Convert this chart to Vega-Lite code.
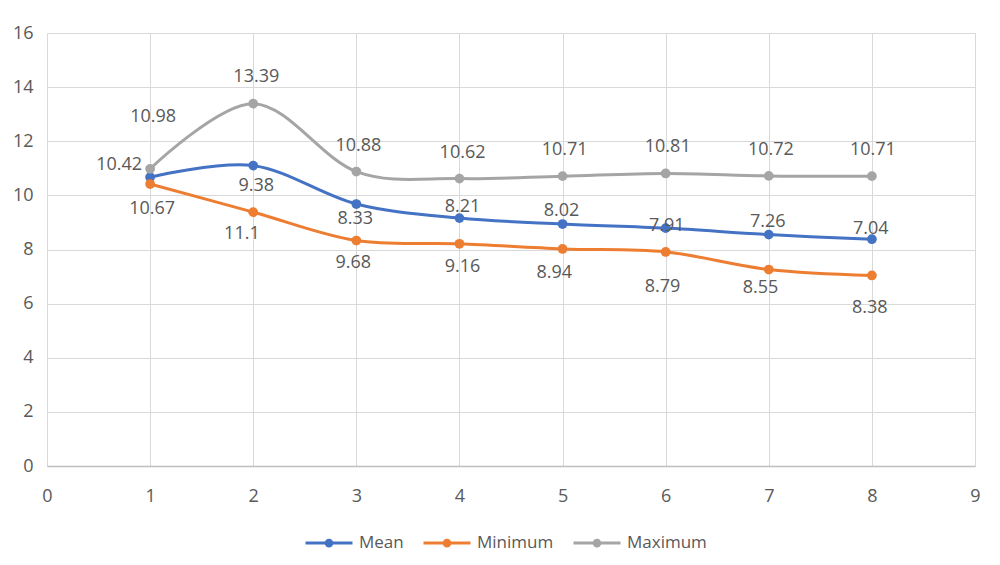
{
  "$schema": "https://vega.github.io/schema/vega-lite/v6.json",
  "autosize": "none",
  "width": 928,
  "height": 433,
  "padding": {"left": 47, "top": 33, "right": 25, "bottom": 99},
  "background": "#ffffff",
  "config": {
    "view": {"stroke": null},
    "font": "Open Sans",
    "axis": {
      "labelFont": "Open Sans",
      "labelFontSize": 18,
      "labelColor": "#595959",
      "gridColor": "#d9d9d9",
      "gridWidth": 1,
      "ticks": false,
      "title": null
    }
  },
  "datasets": {
    "series": [
      {"x": 1, "series": "Mean", "value": 10.67},
      {"x": 2, "series": "Mean", "value": 11.1},
      {"x": 3, "series": "Mean", "value": 9.68},
      {"x": 4, "series": "Mean", "value": 9.16},
      {"x": 5, "series": "Mean", "value": 8.94},
      {"x": 6, "series": "Mean", "value": 8.79},
      {"x": 7, "series": "Mean", "value": 8.55},
      {"x": 8, "series": "Mean", "value": 8.38},
      {"x": 1, "series": "Minimum", "value": 10.42},
      {"x": 2, "series": "Minimum", "value": 9.38},
      {"x": 3, "series": "Minimum", "value": 8.33},
      {"x": 4, "series": "Minimum", "value": 8.21},
      {"x": 5, "series": "Minimum", "value": 8.02},
      {"x": 6, "series": "Minimum", "value": 7.91},
      {"x": 7, "series": "Minimum", "value": 7.26},
      {"x": 8, "series": "Minimum", "value": 7.04},
      {"x": 1, "series": "Maximum", "value": 10.98},
      {"x": 2, "series": "Maximum", "value": 13.39},
      {"x": 3, "series": "Maximum", "value": 10.88},
      {"x": 4, "series": "Maximum", "value": 10.62},
      {"x": 5, "series": "Maximum", "value": 10.71},
      {"x": 6, "series": "Maximum", "value": 10.81},
      {"x": 7, "series": "Maximum", "value": 10.72},
      {"x": 8, "series": "Maximum", "value": 10.71}
    ],
    "labels": [
      {"lx": 1.03, "ly": 12.91, "text": "10.98"},
      {"lx": 2.03, "ly": 14.39, "text": "13.39"},
      {"lx": 3.02, "ly": 11.84, "text": "10.88"},
      {"lx": 4.03, "ly": 11.57, "text": "10.62"},
      {"lx": 5.02, "ly": 11.69, "text": "10.71"},
      {"lx": 6.02, "ly": 11.8, "text": "10.81"},
      {"lx": 7.02, "ly": 11.69, "text": "10.72"},
      {"lx": 8.01, "ly": 11.69, "text": "10.71"},
      {"lx": 0.7, "ly": 11.13, "text": "10.42"},
      {"lx": 2.03, "ly": 10.35, "text": "9.38"},
      {"lx": 2.99, "ly": 9.14, "text": "8.33"},
      {"lx": 4.03, "ly": 9.58, "text": "8.21"},
      {"lx": 4.99, "ly": 9.43, "text": "8.02"},
      {"lx": 6.01, "ly": 8.88, "text": "7.91"},
      {"lx": 6.99, "ly": 9.03, "text": "7.26"},
      {"lx": 7.99, "ly": 8.74, "text": "7.04"},
      {"lx": 1.02, "ly": 9.48, "text": "10.67"},
      {"lx": 1.89, "ly": 8.59, "text": "11.1"},
      {"lx": 2.97, "ly": 7.51, "text": "9.68"},
      {"lx": 4.03, "ly": 7.37, "text": "9.16"},
      {"lx": 4.92, "ly": 7.14, "text": "8.94"},
      {"lx": 5.97, "ly": 6.62, "text": "8.79"},
      {"lx": 6.92, "ly": 6.59, "text": "8.55"},
      {"lx": 7.98, "ly": 5.82, "text": "8.38"}
    ]
  },
  "layer": [
    {
      "data": {"name": "series"},
      "mark": {"type": "line", "interpolate": "cardinal", "strokeWidth": 3},
      "encoding": {
        "x": {
          "field": "x", "type": "quantitative",
          "scale": {"domain": [0, 9], "nice": false, "zero": false},
          "axis": {
            "values": [0, 1, 2, 3, 4, 5, 6, 7, 8, 9],
            "format": "d",
            "grid": true,
            "domain": true,
            "domainColor": "#bfbfbf",
            "domainWidth": 1.5,
            "labelPadding": 21,
            "labelFlush": false
          }
        },
        "y": {
          "field": "value", "type": "quantitative",
          "scale": {"domain": [0, 16], "nice": false},
          "axis": {
            "values": [0, 2, 4, 6, 8, 10, 12, 14, 16],
            "format": "d",
            "grid": true,
            "domain": false,
            "labelPadding": 14
          }
        },
        "color": {
          "field": "series", "type": "nominal",
          "scale": {"domain": ["Mean", "Minimum", "Maximum"], "range": ["#4472C4", "#ED7D31", "#A5A5A5"]},
          "sort": ["Mean", "Minimum", "Maximum"],
          "legend": {
            "title": null,
            "orient": "none",
            "direction": "horizontal",
            "legendX": 257,
            "legendY": 485,
            "labelFont": "Open Sans",
            "labelFontSize": 17,
            "labelColor": "#595959",
            "labelOffset": 5,
            "columnPadding": 13,
            "symbolType": "M-1,0L1,0M0.12,0A0.12,0.12,0,1,1,-0.12,0A0.12,0.12,0,1,1,0.12,0Z",
            "symbolSize": 2209,
            "symbolStrokeWidth": 3,
            "encode": {
              "symbols": {
                "update": {
                  "fill": {"scale": "color", "field": "value"},
                  "stroke": {"scale": "color", "field": "value"},
                  "strokeWidth": {"value": 3},
                  "opacity": {"value": 1}
                }
              }
            }
          }
        }
      }
    },
    {
      "data": {"name": "series"},
      "mark": {"type": "point", "shape": "circle", "filled": true, "size": 95, "opacity": 1},
      "encoding": {
        "x": {"field": "x", "type": "quantitative"},
        "y": {"field": "value", "type": "quantitative"},
        "color": {"field": "series", "type": "nominal", "legend": null}
      }
    },
    {
      "data": {"name": "labels"},
      "mark": {"type": "text", "font": "Open Sans", "fontSize": 18, "color": "#595959", "align": "center", "baseline": "middle"},
      "encoding": {
        "x": {"field": "lx", "type": "quantitative"},
        "y": {"field": "ly", "type": "quantitative"},
        "text": {"field": "text", "type": "nominal"}
      }
    }
  ]
}
